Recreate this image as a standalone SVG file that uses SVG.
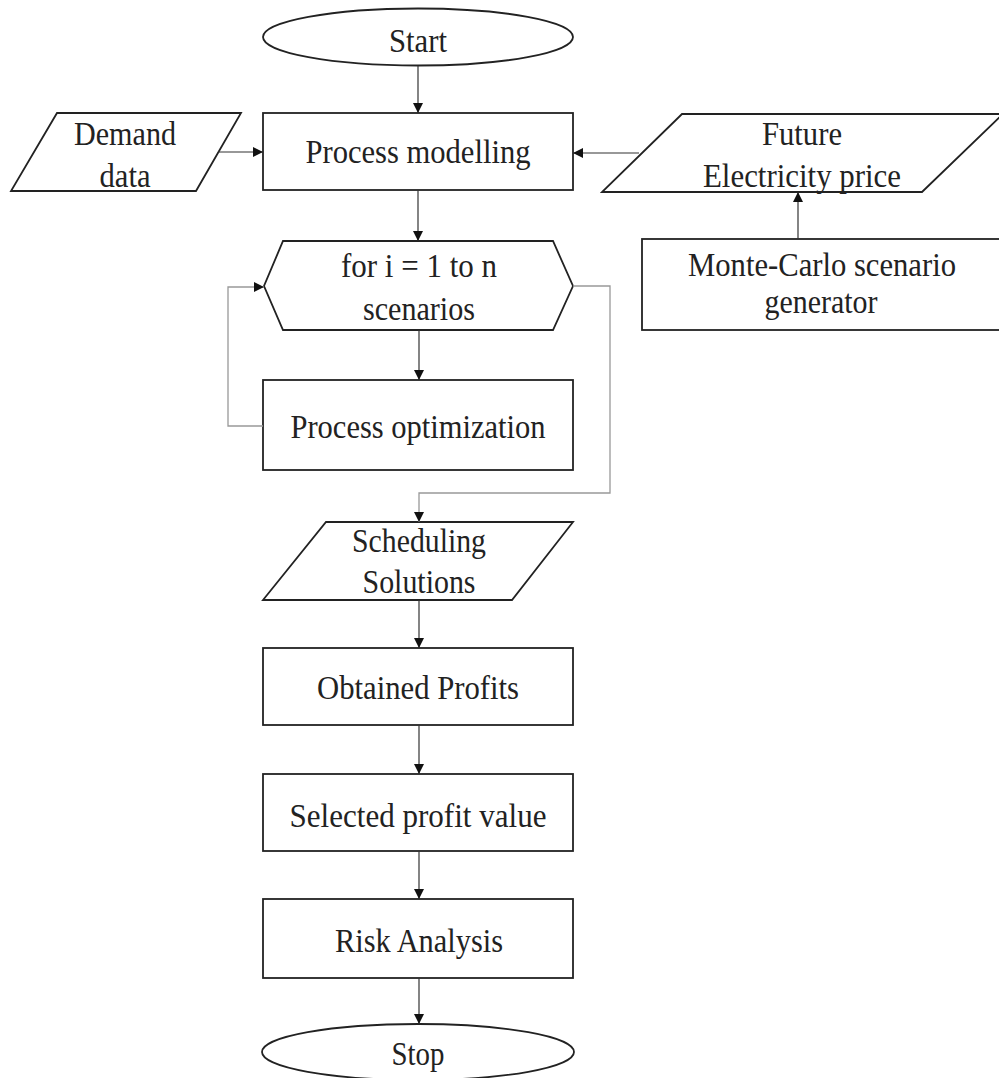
<svg xmlns="http://www.w3.org/2000/svg" width="999" height="1078" viewBox="0 0 999 1078">
<style>
.shape{fill:#fff;stroke:#222;stroke-width:1.8}
.t{font-family:"Liberation Serif","Times New Roman",serif;font-size:34px;fill:#222;text-anchor:middle}
.c{fill:none;stroke:#333;stroke-width:1.2}
.g{fill:none;stroke:#999;stroke-width:1.3}
</style>
<defs>
<marker id="ah" viewBox="0 0 10 10" refX="10" refY="5" markerWidth="10" markerHeight="10" markerUnits="userSpaceOnUse" orient="auto">
<path d="M0,0 L10,5 L0,10 z" fill="#111"/>
</marker>
</defs>
<rect width="999" height="1078" fill="#fff"/>
<g id="start"><ellipse class="shape" cx="418" cy="37" rx="155" ry="28.5"/><text class="t" x="418" y="52" textLength="58" lengthAdjust="spacingAndGlyphs">Start</text></g>
<g id="demand"><polygon class="shape" points="57,113 241,113 196,191 11,191"/><text class="t" x="125" y="145" textLength="102" lengthAdjust="spacingAndGlyphs">Demand</text><text class="t" x="125" y="187" textLength="51" lengthAdjust="spacingAndGlyphs">data</text></g>
<g id="modelling"><rect class="shape" x="263" y="113" width="310" height="77"/><text class="t" x="418" y="163" textLength="225" lengthAdjust="spacingAndGlyphs">Process modelling</text></g>
<g id="future"><polygon class="shape" points="682,114 1003,114 922,192 602,192"/><text class="t" x="802" y="145" textLength="80" lengthAdjust="spacingAndGlyphs">Future</text><text class="t" x="802" y="187" textLength="198" lengthAdjust="spacingAndGlyphs">Electricity price</text></g>
<g id="montecarlo"><rect class="shape" x="642" y="239" width="362" height="91"/><text class="t" x="822" y="276" textLength="268" lengthAdjust="spacingAndGlyphs">Monte-Carlo scenario</text><text class="t" x="821" y="313" textLength="113" lengthAdjust="spacingAndGlyphs">generator</text></g>
<g id="loop"><polygon class="shape" points="283,241 553,241 573,286 553,330 283,330 264,286"/><text class="t" x="419" y="277" textLength="156" lengthAdjust="spacingAndGlyphs">for i = 1 to n</text><text class="t" x="419" y="320" textLength="112" lengthAdjust="spacingAndGlyphs">scenarios</text></g>
<g id="optimization"><rect class="shape" x="263" y="380" width="310" height="90"/><text class="t" x="418" y="438" textLength="255" lengthAdjust="spacingAndGlyphs">Process optimization</text></g>
<g id="scheduling"><polygon class="shape" points="326,522 573,522 512,600 263,600"/><text class="t" x="419" y="552" textLength="134" lengthAdjust="spacingAndGlyphs">Scheduling</text><text class="t" x="419" y="593" textLength="113" lengthAdjust="spacingAndGlyphs">Solutions</text></g>
<g id="profits"><rect class="shape" x="263" y="648" width="310" height="77"/><text class="t" x="418" y="699" textLength="202" lengthAdjust="spacingAndGlyphs">Obtained Profits</text></g>
<g id="selected"><rect class="shape" x="263" y="774" width="310" height="77"/><text class="t" x="418" y="827" textLength="257" lengthAdjust="spacingAndGlyphs">Selected profit value</text></g>
<g id="risk"><rect class="shape" x="263" y="899" width="310" height="79"/><text class="t" x="419" y="952" textLength="168" lengthAdjust="spacingAndGlyphs">Risk Analysis</text></g>
<g id="stop"><ellipse class="shape" cx="418" cy="1052" rx="156" ry="28"/><text class="t" x="418" y="1065" textLength="53" lengthAdjust="spacingAndGlyphs">Stop</text></g>
<g id="connectors">
<line class="c" x1="418" y1="66" x2="418" y2="113" marker-end="url(#ah)"/>
<line class="c" x1="218" y1="152" x2="263" y2="152" marker-end="url(#ah)"/>
<line class="c" x1="639" y1="153" x2="573" y2="153" marker-end="url(#ah)"/>
<line class="c" x1="798" y1="239" x2="798" y2="192" marker-end="url(#ah)"/>
<line class="c" x1="418" y1="190" x2="418" y2="241" marker-end="url(#ah)"/>
<line class="c" x1="419" y1="330" x2="419" y2="380" marker-end="url(#ah)"/>
<polyline class="g" points="263,426 228,426 228,287 264,287" marker-end="url(#ah)"/>
<polyline class="g" points="573,286 610,286 610,493 419,493 419,522" marker-end="url(#ah)"/>
<line class="c" x1="419" y1="600" x2="419" y2="648" marker-end="url(#ah)"/>
<line class="c" x1="419" y1="725" x2="419" y2="774" marker-end="url(#ah)"/>
<line class="c" x1="419" y1="851" x2="419" y2="899" marker-end="url(#ah)"/>
<line class="c" x1="419" y1="978" x2="419" y2="1024" marker-end="url(#ah)"/>
</g>
</svg>
